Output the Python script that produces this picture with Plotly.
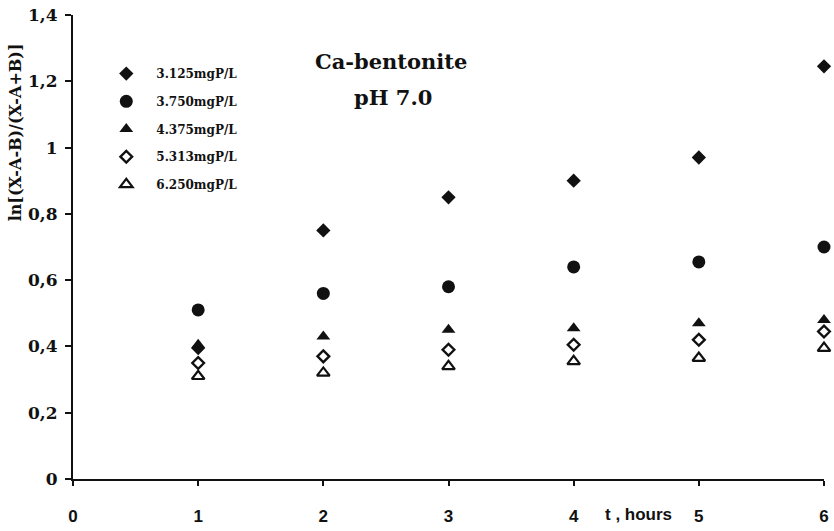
import plotly.graph_objects as go

# time, hours
hours = [1, 2, 3, 4, 5, 6]

# ln[(X-A-B)/(X-A+B)] for each initial P concentration
conc_3125 = [0.395, 0.75, 0.85, 0.90, 0.97, 1.245]
conc_3750 = [0.51, 0.56, 0.58, 0.64, 0.655, 0.70]
conc_4375 = [0.405, 0.43, 0.45, 0.455, 0.47, 0.48]
conc_5313 = [0.35, 0.37, 0.39, 0.405, 0.42, 0.445]
conc_6250 = [0.31, 0.32, 0.34, 0.355, 0.365, 0.395]

series_names = ["3.125mgP/L", "3.750mgP/L", "4.375mgP/L", "5.313mgP/L", "6.250mgP/L"]

y_tickvals = [0, 0.2, 0.4, 0.6, 0.8, 1.0, 1.2, 1.4]
y_ticktext = ["0", "0,2", "0,4", "0,6", "0,8", "1", "1,2", "1,4"]
x_tickvals = [0, 1, 2, 3, 4, 5, 6]
x_ticktext = ["0", "1", "2", "3", "4", "5", "6"]

INK = "#111111"
SERIF = "DejaVu Serif"
SANS = "Liberation Sans"

styles = [
    dict(symbol="diamond", size=11, color=INK, line=dict(width=0)),
    dict(symbol="circle", size=13, color=INK, line=dict(width=0)),
    dict(symbol="triangle-up", size=12, color=INK, line=dict(width=0)),
    dict(symbol="diamond-open", size=9, color=INK, line=dict(width=2.4, color=INK)),
    dict(symbol="triangle-up-open", size=11, color=INK, line=dict(width=2.2, color=INK)),
]

fig = go.Figure()
for i, (name, vals, mk) in enumerate(zip(series_names,
                                         [conc_3125, conc_3750, conc_4375, conc_5313, conc_6250],
                                         styles)):
    fig.add_trace(go.Scatter(
        x=hours, y=vals, mode="markers", name=name, marker=mk,
        legendgroup=f"g{i}", cliponaxis=False,
    ))

fig.update_layout(
    width=834, height=531,
    margin=dict(l=73, r=5, t=15, b=48),
    paper_bgcolor="white", plot_bgcolor="white",
    showlegend=True,
    legend=dict(
        x=0.031, y=0.905, xanchor="left", yanchor="top",
        bgcolor="rgba(0,0,0,0)", borderwidth=0,
        tracegroupgap=8.7, itemwidth=50,
        font=dict(family=SERIF, size=12, color=INK, weight="bold"),
    ),
    xaxis=dict(
        range=[0, 6], autorange=False,
        tickvals=x_tickvals, ticktext=x_ticktext,
        showgrid=False, zeroline=False,
        showline=True, linecolor=INK, linewidth=2,
        ticks="outside", ticklen=5, tickwidth=1.5, tickcolor=INK,
        ticklabelstandoff=16,
        tickfont=dict(family=SANS, size=17, color=INK, weight="bold"),
    ),
    yaxis=dict(
        range=[0, 1.4], autorange=False,
        tickvals=y_tickvals, ticktext=y_ticktext,
        showgrid=False, zeroline=False,
        showline=True, linecolor=INK, linewidth=2,
        ticks="outside", ticklen=6, tickwidth=1.5, tickcolor=INK,
        ticklabelstandoff=4,
        tickfont=dict(family=SERIF, size=17, color=INK, weight="bold"),
    ),
    annotations=[
        dict(text="Ca-bentonite", xref="paper", yref="paper",
             x=(393 - 73) / 756, y=(483 - 62) / 468, showarrow=False,
             xanchor="center", yanchor="middle",
             font=dict(family=SERIF, size=21, color=INK, weight="bold")),
        dict(text="pH 7.0", xref="paper", yref="paper",
             x=(395 - 73) / 756, y=(483 - 98) / 468, showarrow=False,
             xanchor="center", yanchor="middle",
             font=dict(family=SERIF, size=21, color=INK, weight="bold")),
        dict(text="ln[(X-A-B)/(X-A+B)]", xref="paper", yref="paper",
             x=(16 - 73) / 756, y=(483 - 133) / 468, showarrow=False,
             xanchor="center", yanchor="middle", textangle=-90,
             font=dict(family=SERIF, size=16, color=INK, weight="bold")),
        dict(text="t , hours", xref="paper", yref="paper",
             x=(642 - 73) / 756, y=(483 - 519) / 468, showarrow=False,
             xanchor="center", yanchor="middle",
             font=dict(family=SANS, size=17, color=INK, weight="bold")),
    ],
)

fig.write_html("out.html")
